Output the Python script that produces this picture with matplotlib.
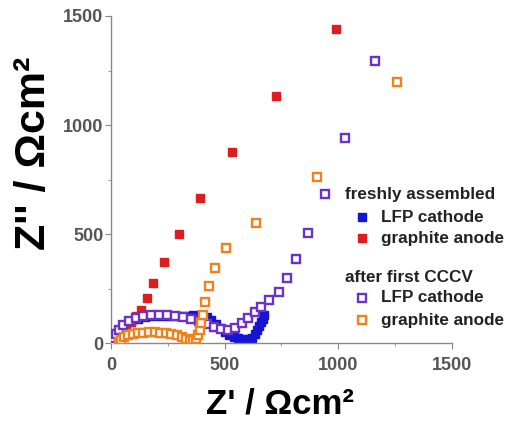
import matplotlib
matplotlib.use("Agg")
import matplotlib.pyplot as plt
from matplotlib.lines import Line2D
from matplotlib.ticker import MultipleLocator

plt.rcParams['font.family'] = ['Liberation Sans', 'DejaVu Sans']

# freshly assembled, LFP cathode (blue, filled)
lfp_fresh_x = [5, 14, 26, 42, 62, 88, 118, 150, 185, 220, 255, 290, 325, 360, 392, 421, 440, 460,
               480, 500, 520, 540, 560, 585, 605, 620, 632, 643, 653, 662, 669, 675]
lfp_fresh_y = [4, 20, 40, 60, 80, 98, 112, 121, 125, 126, 125, 123, 125, 128, 130, 119, 105, 88,
               68, 50, 38, 28, 22, 17, 17, 24, 40, 58, 77, 95, 112, 128]

# freshly assembled, graphite anode (red, filled)
gra_fresh_x = [4, 10, 20, 33, 48, 66, 88, 110, 130, 157, 186, 234, 300, 390, 531, 724, 991]
gra_fresh_y = [3, 10, 22, 38, 55, 75, 98, 124, 151, 205, 274, 373, 500, 667, 876, 1133, 1440]

# after first CCCV, LFP cathode (purple, open)
lfp_cccv_x = [5, 12, 22, 35, 53, 78, 108, 140, 175, 210, 245, 280, 315, 350, 385, 421, 452, 482,
              513, 544, 575, 601, 632, 662, 697, 737, 776, 816, 868, 943, 1031, 1162]
lfp_cccv_y = [5, 22, 42, 62, 82, 100, 115, 125, 130, 131, 129, 124, 118, 110, 103, 87, 73, 64,
              60, 69, 92, 115, 142, 165, 197, 234, 298, 385, 504, 683, 940, 1294]

# after first CCCV, graphite anode (orange, open)
gra_cccv_x = [35, 45, 58, 75, 95, 118, 142, 167, 192, 217, 242, 266, 290, 312, 332, 348, 362,
              374, 383, 391, 398, 405, 415, 431, 456, 504, 639, 905, 1259]
gra_cccv_y = [4, 16, 27, 36, 42, 46, 48, 49, 49, 48, 46, 42, 36, 28, 20, 14, 12,
              20, 38, 62, 90, 130, 189, 261, 345, 434, 552, 763, 1197]

c_blue = '#1414d2'
c_red = '#dc1e1e'
c_purple = '#6a32c8'
c_orange = '#f0821e'
gray = '#888888'

fig = plt.figure(figsize=(5.22, 4.21), dpi=100)
ax = fig.add_axes([0.2126, 0.185, 0.6533, 0.777])

ms = 5.8
mew = 1.7
ax.plot(lfp_fresh_x, lfp_fresh_y, 's', ms=ms, color=c_blue, mec=c_blue, zorder=2)
ax.plot(gra_fresh_x, gra_fresh_y, 's', ms=ms, color=c_red, mec=c_red, zorder=3)
ax.plot(lfp_cccv_x, lfp_cccv_y, 's', ms=ms, mfc='white', mec=c_purple, mew=mew, zorder=4)
ax.plot(gra_cccv_x, gra_cccv_y, 's', ms=ms, mfc='white', mec=c_orange, mew=mew, zorder=5)

ax.set_xlim(0, 1500)
ax.set_ylim(0, 1500)
ax.xaxis.set_major_locator(MultipleLocator(500))
ax.xaxis.set_minor_locator(MultipleLocator(250))
ax.yaxis.set_major_locator(MultipleLocator(500))
ax.yaxis.set_minor_locator(MultipleLocator(250))

for s in ['top', 'right']:
    ax.spines[s].set_visible(False)
for s in ['left', 'bottom']:
    ax.spines[s].set_color(gray)
    ax.spines[s].set_linewidth(1.0)

ax.tick_params(which='both', direction='out', color=gray, labelcolor='#555555')
ax.tick_params(which='major', length=4)
ax.tick_params(which='minor', length=2.5)
ax.tick_params(axis='x', pad=6)
ax.tick_params(axis='y', pad=1.5)
for lab in ax.get_xticklabels() + ax.get_yticklabels():
    lab.set_fontsize(13)
    lab.set_fontweight('bold')

fig.text(0.537, 1 - 413 / 421.0, "Z' / \u03a9cm\u00b2", fontsize=25, fontweight='bold',
         ha='center', va='baseline')
fig.text(0.066, 0.636, "Z'' / \u03a9cm\u00b2", fontsize=31, fontweight='bold',
         ha='center', va='center', rotation=90)

# legend drawn by hand
W, H = 522.0, 421.0
tcol = '#222222'
def ltext(px, py, s):
    fig.text(px / W, 1 - py / H, s, fontsize=12.3, fontweight='bold', color=tcol,
             ha='left', va='center')

def lmark(px, py, **kw):
    fig.add_artist(Line2D([px / W], [1 - py / H], marker='s', ms=ms, ls='none',
                          transform=fig.transFigure, **kw))

ltext(345, 195, 'freshly assembled')
lmark(362, 217, color=c_blue, mec=c_blue)
ltext(381, 217, 'LFP cathode')
lmark(362, 238, color=c_red, mec=c_red)
ltext(381, 238, 'graphite anode')

ltext(345, 277, 'after first CCCV')
lmark(362, 298, mfc='white', mec=c_purple, mew=mew)
ltext(381, 298, 'LFP cathode')
lmark(362, 320, mfc='white', mec=c_orange, mew=mew)
ltext(381, 320, 'graphite anode')

fig.savefig('out.png', dpi=100)
